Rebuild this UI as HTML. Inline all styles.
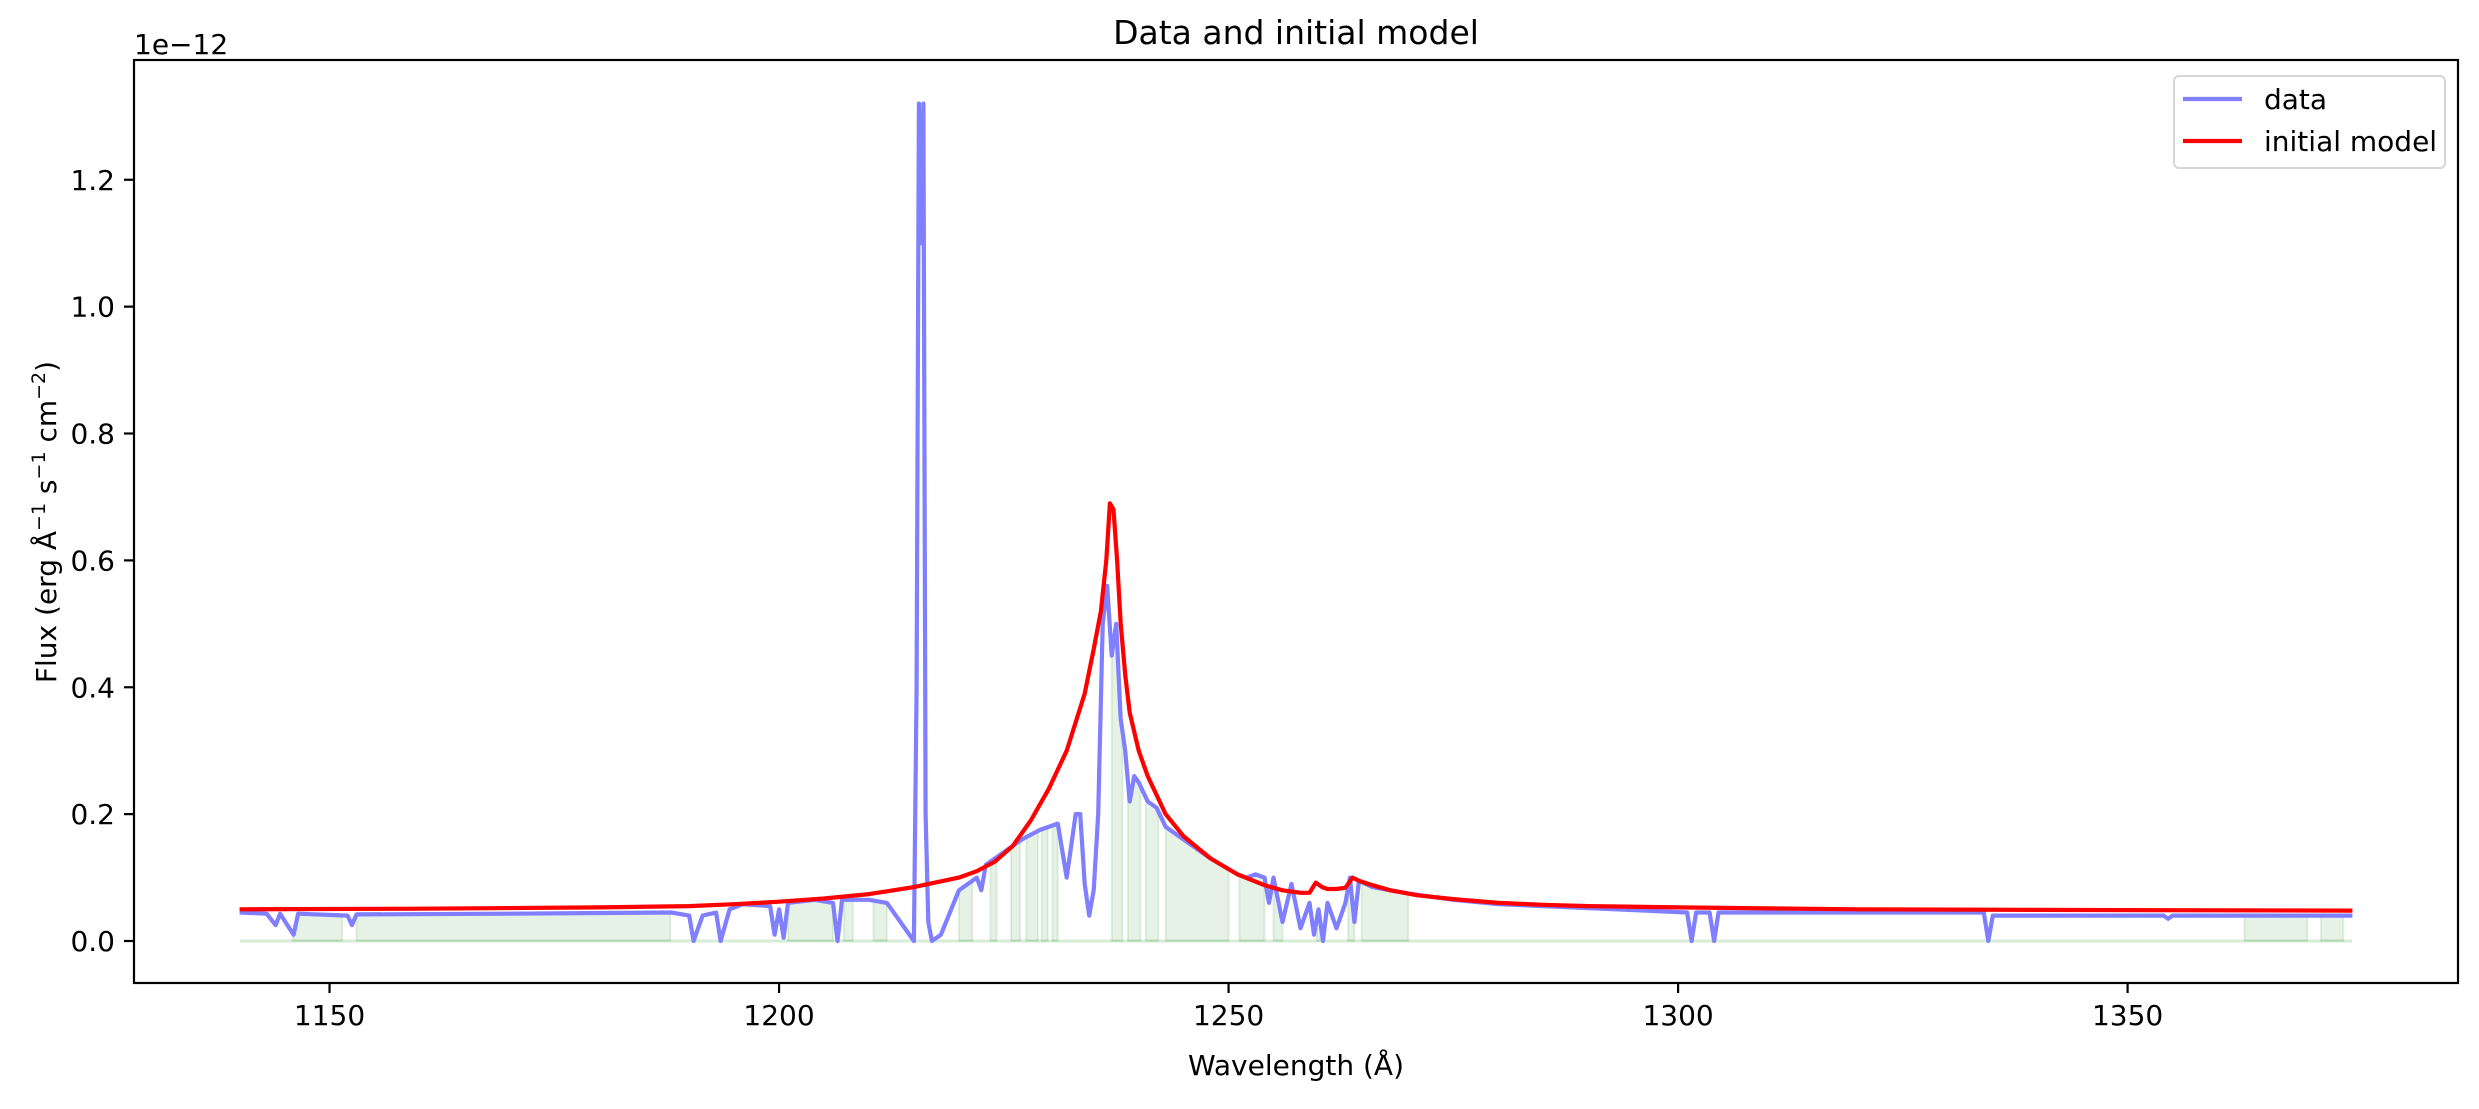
<!DOCTYPE html>
<html><head><meta charset="utf-8"><style>
html,body{margin:0;padding:0;background:#fff;}
svg text{font-family:"DejaVu Sans","Liberation Sans",sans-serif;fill:#000;}
</style></head><body>
<svg id="chart" width="2479" height="1104" viewBox="0 0 2479 1104" xmlns="http://www.w3.org/2000/svg">
<rect x="0" y="0" width="2479" height="1104" fill="#fff"/>
<g id="plot"></g>
<text x="1296" y="44" font-size="33" text-anchor="middle">Data and initial model</text>
<text x="1296" y="1075" font-size="28" text-anchor="middle">Wavelength (Å)</text>
<text transform="translate(56,522) rotate(-90)" font-size="28" text-anchor="middle">Flux (erg Å<tspan font-size="19" dy="-11">−1</tspan><tspan dy="11"> s</tspan><tspan font-size="19" dy="-11">−1</tspan><tspan dy="11"> cm</tspan><tspan font-size="19" dy="-11">−2</tspan><tspan dy="11">)</tspan></text>
<text x="134" y="54" font-size="28">1e−12</text>
<g>
<rect x="2174" y="76" width="271" height="92" rx="5" fill="#fff" fill-opacity="0.8" stroke="#d6d6d6" stroke-width="2"/>
<line x1="2183" y1="99" x2="2242" y2="99" stroke="#7f7fff" stroke-width="4.2"/>
<text x="2264" y="109" font-size="28">data</text>
<line x1="2183" y1="141" x2="2242" y2="141" stroke="#ff0000" stroke-width="4.2"/>
<text x="2264" y="151" font-size="28">initial model</text>
</g>
</svg>
<script>
const dataWave=[1140,1143,1144,1144.5,1146,1146.5,1152,1152.5,1153,1170,1188,1190,1190.5,1191.5,1193,1193.5,1194.5,1196,1199,1199.5,1200,1200.5,1201,1204,1206,1206.5,1207,1210,1212,1214,1215,1215.3,1215.55,1215.8,1216.05,1216.3,1216.6,1217,1218,1220,1222,1222.5,1223,1225,1227,1229,1231,1232,1233,1233.5,1234,1234.5,1235,1235.5,1236,1236.5,1237,1237.5,1238,1238.5,1239,1239.5,1240,1241,1242,1243,1245,1248,1251,1252,1253,1254,1254.5,1255,1256,1257,1258,1259,1259.5,1260,1260.5,1261,1262,1263,1263.5,1264,1264.5,1266,1270,1275,1280,1285,1301,1301.5,1302,1303.5,1304,1304.5,1334,1334.5,1335,1345,1354,1354.5,1355,1375];
const dataFlux=[0.045,0.043,0.025,0.043,0.01,0.043,0.04,0.025,0.042,0.043,0.045,0.04,0.0,0.04,0.045,0.0,0.05,0.058,0.055,0.01,0.05,0.005,0.06,0.065,0.06,0.0,0.065,0.065,0.06,0.02,0.0,0.4,1.32,1.1,1.32,0.2,0.03,0.0,0.01,0.08,0.1,0.08,0.12,0.14,0.16,0.175,0.185,0.1,0.2,0.2,0.09,0.04,0.08,0.2,0.5,0.56,0.45,0.5,0.35,0.3,0.22,0.26,0.25,0.22,0.21,0.18,0.16,0.13,0.105,0.1,0.105,0.1,0.06,0.1,0.03,0.09,0.02,0.06,0.01,0.05,0.0,0.06,0.02,0.06,0.1,0.03,0.095,0.085,0.075,0.065,0.058,0.055,0.045,0.0,0.045,0.045,0.0,0.045,0.045,0.0,0.04,0.04,0.04,0.035,0.04,0.04];
const modelWave=[1140,1160,1180,1190,1195,1200,1205,1210,1215,1220,1222,1224,1226,1228,1230,1232,1234,1235,1235.8,1236.4,1236.8,1237.2,1237.6,1238,1238.5,1239,1240,1241,1243,1245,1248,1251,1254,1256,1258,1259,1259.7,1260.4,1261,1262,1263,1263.8,1264.5,1266,1268,1271,1275,1280,1285,1290,1300,1320,1340,1375];
const modelFlux=[0.05,0.051,0.053,0.055,0.058,0.062,0.067,0.074,0.085,0.1,0.11,0.125,0.15,0.19,0.24,0.3,0.39,0.46,0.52,0.6,0.69,0.68,0.6,0.5,0.42,0.36,0.3,0.26,0.2,0.165,0.13,0.105,0.088,0.08,0.076,0.076,0.092,0.085,0.082,0.082,0.084,0.1,0.095,0.088,0.08,0.072,0.066,0.06,0.057,0.055,0.053,0.05,0.049,0.048];
const maskStart=[1145.9,1153,1201,1207.2,1210.5,1220,1223.5,1225.8,1227.5,1229.2,1230.4,1237,1238.8,1240.8,1243,1251.2,1255,1259.8,1263.3,1264.8,1363,1371.5];
const maskEnd=[1151.4,1187.9,1206,1208.2,1212,1221.5,1224.2,1226.8,1228.8,1229.9,1231,1238.2,1240.2,1242.2,1250,1254,1256,1260.2,1264,1270,1370,1374];
const xTicks=[1150,1200,1250,1300,1350];
const yTicks=[0,0.2,0.4,0.6,0.8,1.0,1.2];
const yTickLabels=["0.0","0.2","0.4","0.6","0.8","1.0","1.2"];

const L=134,R=2458,T=60,B=983;
const X0=1128.25,X1=1386.75,Y0=-0.0662,Y1=1.3888;
const sx=v=>L+(v-X0)/(X1-X0)*(R-L);
const sy=v=>B-(v-Y0)/(Y1-Y0)*(B-T);
const NS="http://www.w3.org/2000/svg";
const g=document.getElementById('plot');
function mk(tag,attrs){const e=document.createElementNS(NS,tag);for(const k in attrs)e.setAttribute(k,attrs[k]);return e;}
function interp(w){for(let i=1;i<dataWave.length;i++){if(w<=dataWave[i]){const t=(w-dataWave[i-1])/(dataWave[i]-dataWave[i-1]);return dataFlux[i-1]+t*(dataFlux[i]-dataFlux[i-1]);}}return dataFlux[dataFlux.length-1];}

const base=mk('line',{x1:sx(1140),y1:sy(0),x2:sx(1375),y2:sy(0),stroke:'#d9ebd9','stroke-width':3});


g.appendChild(base);
for(let m=0;m<maskStart.length;m++){
  const a=maskStart[m],b=maskEnd[m];
  let pts=[[a,0],[a,interp(a)]];
  for(let i=0;i<dataWave.length;i++){if(dataWave[i]>a&&dataWave[i]<b)pts.push([dataWave[i],dataFlux[i]]);}
  pts.push([b,interp(b)],[b,0]);
  const p=mk('polygon',{points:pts.map(q=>sx(q[0]).toFixed(1)+','+sy(q[1]).toFixed(1)).join(' '),fill:'#008000','fill-opacity':'0.1',stroke:'#008000','stroke-opacity':'0.1','stroke-width':'2'});
  
  
  g.appendChild(p);
}
const dl=mk('polyline',{points:dataWave.map((w,i)=>sx(w).toFixed(1)+','+sy(dataFlux[i]).toFixed(1)).join(' '),fill:'none',stroke:'#7f7fff','stroke-width':'4.2','stroke-linejoin':'round'});


g.appendChild(dl);
const ml=mk('polyline',{points:modelWave.map((w,i)=>sx(w).toFixed(1)+','+sy(modelFlux[i]).toFixed(1)).join(' '),fill:'none',stroke:'#ff0000','stroke-width':'4.2','stroke-linejoin':'round'});


g.appendChild(ml);

const frame=mk('rect',{x:L,y:T,width:R-L,height:B-T,fill:'none',stroke:'#000','stroke-width':'2.2'});


g.appendChild(frame);
xTicks.forEach(v=>{
  const t=mk('line',{x1:sx(v),y1:B,x2:sx(v),y2:B+10,stroke:'#000','stroke-width':'2.2'});
  
  
  g.appendChild(t);
  const tx=mk('text',{x:sx(v),y:B+42,'font-size':'28','text-anchor':'middle'});
  tx.textContent=String(v);
  
  
  g.appendChild(tx);
});
yTicks.forEach((v,i)=>{
  const t=mk('line',{x1:L-10,y1:sy(v),x2:L,y2:sy(v),stroke:'#000','stroke-width':'2.2'});
  
  
  g.appendChild(t);
  const tx=mk('text',{x:L-19,y:sy(v)+10,'font-size':'28','text-anchor':'end'});
  tx.textContent=yTickLabels[i];
  
  
  g.appendChild(tx);
});
</script>
</body></html>
